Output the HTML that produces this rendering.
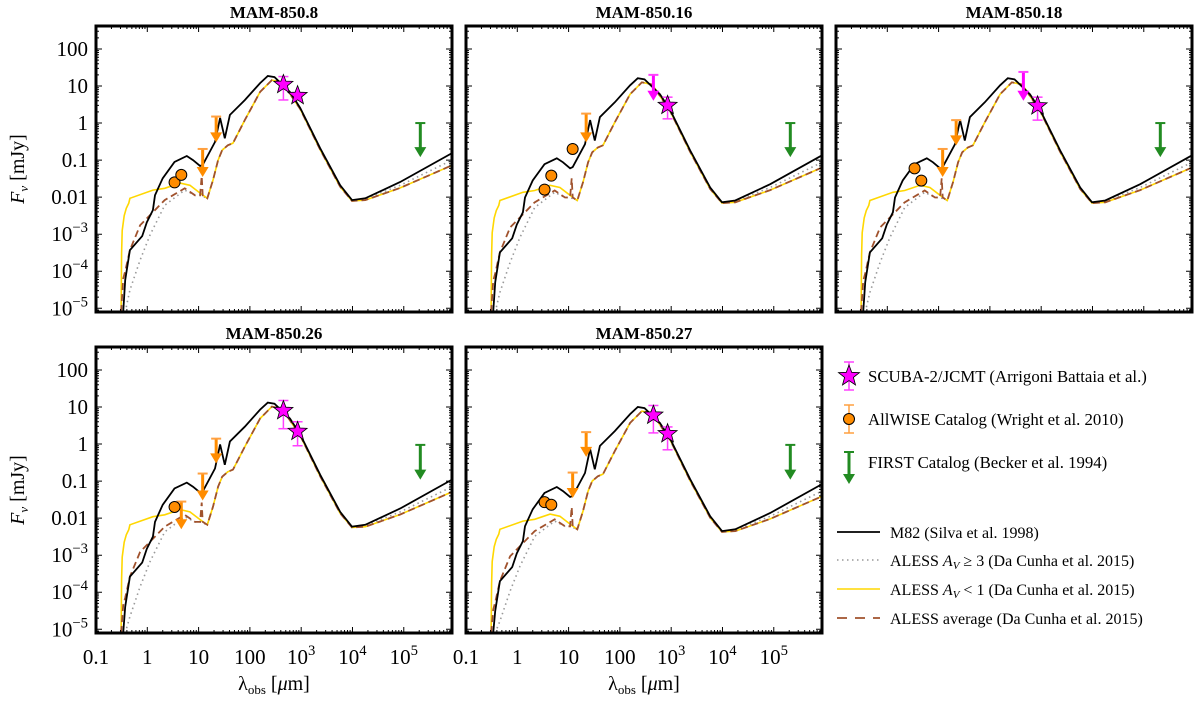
<!DOCTYPE html>
<html><head><meta charset="utf-8"><style>
body{margin:0;background:#fff;}
svg{display:block;font-family:"Liberation Serif",serif;}
</style></head><body>
<svg id="fig" width="1200" height="704" viewBox="0 0 1200 704"></svg>
<script>
// ---- template SED data (log10 lambda [um], log10 F [mJy]) for panel 1 normalisation ----
const m82LogLam=[-0.47,-0.43,-0.34,-0.10,-0.01,0.11,0.15,0.30,0.53,0.77,0.89,1.03,1.08,1.32,1.42,1.51,1.61,1.90,2.20,2.35,2.48,2.78,2.98,3.37,3.76,3.99,4.25,4.93,5.94];
const m82LogF=[-5.1,-4.24,-3.43,-3.05,-2.68,-2.35,-1.95,-1.49,-1.05,-0.89,-1.0,-1.16,-1.13,-0.51,0.14,-0.41,0.22,0.62,1.08,1.27,1.24,0.84,0.41,-0.68,-1.68,-2.08,-2.03,-1.59,-0.81];
const lowAvLogLam=[-0.51,-0.50,-0.49,-0.45,-0.41,-0.36,-0.34,0.11,0.34,0.64,0.83,1.03,1.17,1.28,1.38,1.46,1.57,1.67,1.90,2.20,2.43,2.63,2.98,3.37,3.76,3.99,4.25,4.93,5.94];
const lowAvLogF=[-5.1,-3.5,-2.9,-2.5,-2.3,-2.16,-2.03,-1.81,-1.76,-1.62,-1.68,-1.89,-2.03,-1.54,-1.0,-0.73,-0.6,-0.54,0.08,0.84,1.16,1.1,0.38,-0.72,-1.72,-2.1,-2.08,-1.75,-1.14];
const avgLogLam=[-0.51,-0.47,-0.43,-0.34,-0.14,0.05,0.34,0.73,0.93,1.03,1.06,1.08,1.17,1.28,1.38,1.46,1.57,1.67,1.90,2.20,2.43,2.63,2.98,3.37,3.76,3.99,4.25,4.93,5.94];
const avgLogF=[-5.1,-4.2,-4.0,-3.43,-2.76,-2.49,-2.08,-1.76,-1.95,-1.95,-1.43,-1.95,-2.03,-1.54,-1.0,-0.73,-0.6,-0.54,0.08,0.84,1.16,1.1,0.38,-0.72,-1.72,-2.1,-2.08,-1.75,-1.14];
const highAvLogLam=[-0.43,-0.34,-0.14,0.05,0.34,0.73,0.93,1.03,1.17,1.28,1.38,1.46,1.57,1.67,1.90,2.20,2.43,2.63,2.98,3.37,3.76,3.99,4.25,4.93,5.94];
const highAvLogF=[-5.1,-4.51,-3.7,-3.03,-2.22,-1.81,-1.95,-1.95,-2.03,-1.54,-1.0,-0.73,-0.6,-0.54,0.08,0.84,1.16,1.1,0.38,-0.72,-1.72,-2.1,-2.05,-1.68,-1.0];
// ---- panels ----
const panelNames=["MAM-850.8","MAM-850.16","MAM-850.18","MAM-850.26","MAM-850.27"];
const panelOffset=[0,-0.06,-0.06,-0.15,-0.27];
// detections: circles (AllWISE)
const circLam=[[3.4,4.6],[3.4,4.6,12],[3.4,4.6],[3.4],[3.4,4.6]];
const circF=[[0.025,0.04],[0.016,0.038,0.2],[0.06,0.028],[0.02],[0.027,0.023]];
// upper limits (AllWISE): cap value, arrow tip value
const ulLam=[[12,22],[22],[12,22],[4.6,12,22],[12,22]];
const ulCap=[[0.2,1.5],[1.8],[0.2,1.2],[0.028,0.16,1.4],[0.17,2.1]];
const ulTip=[[0.035,0.3],[0.3],[0.035,0.25],[0.005,0.03,0.3],[0.035,0.45]];
// SCUBA-2 stars
const starLam=[[450,850],[850],[850],[450,850],[450,850]];
const starF=[[11,5.5],[3.0],[2.9],[8,2.2],[6,1.9]];
const starLo=[[4.2,5.5],[1.3],[1.2],[2.6,0.9],[2,0.7]];
const starHi=[[18,5.5],[5],[5],[15,4],[11,2.9]];
// SCUBA-2 upper limits
const sUlLam=[[],[450],[450],[],[]];
const sUlCap=[[],[20],[24],[],[]];
const sUlTip=[[],[4],[4],[],[]];
// FIRST upper limits
const firstLam=2.1e5;
const firstCap=[1,1,1,0.95,0.95];
const firstTip=[0.12,0.12,0.12,0.11,0.11];
const yTickLabels=["100","10","1","0.1","0.01","10|−3","10|−4","10|−5"];
const yTickExp=[2,1,0,-1,-2,-3,-4,-5];
const xTickLabels=["0.1","1","10","100","10|3","10|4","10|5"];
const xTickExp=[-1,0,1,2,3,4,5];

const NS="http://www.w3.org/2000/svg";
const svg=document.getElementById('fig');
function el(t,a,p){const e=document.createElementNS(NS,t);for(const k in a)e.setAttribute(k,a[k]);(p||svg).appendChild(e);return e;}
const PW=356,PH=286;
const origins=[[96,26],[466,26],[836,26],[96,347],[466,347]];
const xMin=-1,xMax=5.94,yMin=-5.1,yMax=2.62;

function label(g,x,y,txt,anchor,size){
  const t=el('text',{x:x,y:y,'text-anchor':anchor,'font-size':size},g);
  const parts=txt.split('|');
  t.appendChild(document.createTextNode(parts[0]));
  if(parts[1]){const s=el('tspan',{dy:-9,'font-size':size*0.7},t);s.textContent=parts[1];}
  return t;
}
function starPath(cx,cy,r){let d='';for(let i=0;i<10;i++){const a=-Math.PI/2+i*Math.PI/5;const rr=i%2?r*0.42:r;d+=(i?'L':'M')+(cx+rr*Math.cos(a)).toFixed(1)+','+(cy+rr*Math.sin(a)).toFixed(1);}return d+'Z';}

origins.forEach((o,pi)=>{
  const [ox,oy]=o;
  const X=l=>ox+(l-xMin)/(xMax-xMin)*PW;
  const Y=f=>oy+(yMax-f)/(yMax-yMin)*PH;
  const g=el('g',{});
  
  
  const t=el('text',{x:ox+PW/2,y:oy-8,'text-anchor':'middle','font-size':17,'font-weight':'bold'},g);
  t.textContent=panelNames[pi];
  
  
  const cid='clip'+pi;
  const cp=el('clipPath',{id:cid},g);el('rect',{x:ox,y:oy,width:PW,height:PH},cp);
  const pg=el('g',{'clip-path':'url(#'+cid+')'},g);
  const off=panelOffset[pi];
  function curve(lx,ly,st,name){
    const d=lx.map((l,i)=>(i?'L':'M')+X(l).toFixed(1)+','+Y(ly[i]+(ly[i]>-5?off:0)).toFixed(1)).join('');
    const p=el('path',Object.assign({d:d,fill:'none'},st),pg);
    
    
  }
  curve(highAvLogLam,highAvLogF,{stroke:'#999','stroke-width':1.6,'stroke-dasharray':'1.5,3.5'},'aless-high-av-curve');
  curve(lowAvLogLam,lowAvLogF,{stroke:'#ffd700','stroke-width':1.6},'aless-low-av-curve');
  curve(avgLogLam,avgLogF,{stroke:'#a0522d','stroke-width':1.8,'stroke-dasharray':'7,4'},'aless-average-curve');
  curve(m82LogLam,m82LogF,{stroke:'#000','stroke-width':1.8},'m82-curve');
  function ul(l,cap,tip,col,capCol,name){
    const x=X(Math.log10(l)),y1=Y(Math.log10(cap)),y2=Y(Math.log10(tip));
    const gg=el('g',{},pg);
    
    
    el('line',{x1:x,y1:y1,x2:x,y2:y2-8,stroke:col,'stroke-width':3},gg);
    el('line',{x1:x-5,y1:y1,x2:x+5,y2:y1,stroke:capCol,'stroke-width':2},gg);
    el('path',{d:`M${x-6},${y2-10}L${x+6},${y2-10}L${x},${y2}Z`,fill:col},gg);
  }
  ul(firstLam,firstCap[pi],firstTip[pi],'#228b22','#228b22','first-upper-limit');
  ulLam[pi].forEach((l,i)=>ul(l,ulCap[pi][i],ulTip[pi][i],'#ff8c00','#ffa040','allwise-upper-limit'));
  sUlLam[pi].forEach((l,i)=>ul(l,sUlCap[pi][i],sUlTip[pi][i],'#ff00ff','#ff40ff','scuba-upper-limit'));
  circLam[pi].forEach((l,i)=>{
    const c=el('circle',{cx:X(Math.log10(l)),cy:Y(Math.log10(circF[pi][i])),r:5.5,fill:'#ff8c00',stroke:'#000','stroke-width':1},pg);
    
    
  });
  starLam[pi].forEach((l,i)=>{
    const x=X(Math.log10(l)),ylo=Y(Math.log10(starLo[pi][i])),yhi=Y(Math.log10(starHi[pi][i]));
    el('line',{x1:x,y1:ylo,x2:x,y2:yhi,stroke:'#ff40ff','stroke-width':1.5},pg);
    el('line',{x1:x-5,y1:ylo,x2:x+5,y2:ylo,stroke:'#ff40ff','stroke-width':1.5},pg);
    el('line',{x1:x-5,y1:yhi,x2:x+5,y2:yhi,stroke:'#ff40ff','stroke-width':1.5},pg);
    const s=el('path',{d:starPath(x,Y(Math.log10(starF[pi][i])),10),fill:'#ff00ff',stroke:'#000','stroke-width':0.8},pg);
    
    
  });
  // ticks
  let tk='';
  for(let e=-1;e<=5;e++){for(let m=1;m<10;m++){const l=e+Math.log10(m);if(l>xMax)break;const x=X(l);const len=m==1?6:3;tk+=`M${x},${oy+PH}v${-len}M${x},${oy}v${len}`;}}
  for(let e=-6;e<=2;e++){for(let m=1;m<10;m++){const l=e+Math.log10(m);if(l<yMin||l>yMax)continue;const y=Y(l);const len=m==1?6:3;tk+=`M${ox},${y}h${len}M${ox+PW},${y}h${-len}`;}}
  el('path',{d:tk,stroke:'#000','stroke-width':1,fill:'none'},g);
  const fr=el('rect',{x:ox,y:oy,width:PW,height:PH,fill:'none',stroke:'#000','stroke-width':3},g);
  
  
  if(pi==0||pi==3){
    yTickExp.forEach((e,i)=>{const tl=label(g,ox-8,Y(e)+7,yTickLabels[i],'end',21);
      
      });
    const yl=el('text',{x:0,y:0,'font-size':20,'text-anchor':'middle',transform:`translate(${ox-72},${oy+PH/2}) rotate(-90)`},g);
    yl.innerHTML='<tspan font-style="italic">F</tspan><tspan font-style="italic" font-size="13" dy="4">ν</tspan><tspan dy="-4"> [mJy]</tspan>';
    
    
  }
  if(pi>=3){
    xTickExp.forEach((e,i)=>{const tl=label(g,X(e),oy+PH+31,xTickLabels[i],'middle',21);
      
      });
    const xl=el('text',{x:ox+PW/2,y:oy+PH+57,'font-size':20,'text-anchor':'middle'},g);
    xl.innerHTML='λ<tspan font-size="13" dy="4">obs</tspan><tspan dy="-4"> [</tspan><tspan font-style="italic">μ</tspan>m]';
    
    
  }
});

// ---- legend ----
const lg=el('g',{});


function ltext(x,y,html,fs){const t=el('text',{x:x,y:y,'font-size':fs},lg);t.innerHTML=html;return t;}
el('line',{x1:849,y1:362,x2:849,y2:390,stroke:'#ff40ff','stroke-width':1.5},lg);
el('line',{x1:844,y1:362,x2:854,y2:362,stroke:'#ff40ff','stroke-width':1.5},lg);
el('line',{x1:844,y1:390,x2:854,y2:390,stroke:'#ff40ff','stroke-width':1.5},lg);
el('path',{d:starPath(849,376,11),fill:'#ff00ff',stroke:'#000','stroke-width':0.8},lg);
ltext(868,382,'SCUBA-2/JCMT (Arrigoni Battaia et al.)',16.8);
el('line',{x1:849,y1:405,x2:849,y2:433,stroke:'#ffa040','stroke-width':1.5},lg);
el('line',{x1:844,y1:405,x2:854,y2:405,stroke:'#ffa040','stroke-width':1.5},lg);
el('line',{x1:844,y1:433,x2:854,y2:433,stroke:'#ffa040','stroke-width':1.5},lg);
el('circle',{cx:849,cy:419,r:5.5,fill:'#ff8c00',stroke:'#000','stroke-width':1},lg);
ltext(868,425,'AllWISE Catalog (Wright et al. 2010)',16.8);
el('line',{x1:849,y1:452,x2:849,y2:478,stroke:'#228b22','stroke-width':3},lg);
el('line',{x1:844,y1:452,x2:854,y2:452,stroke:'#228b22','stroke-width':2},lg);
el('path',{d:'M843,474L855,474L849,484Z',fill:'#228b22'},lg);
ltext(868,468,'FIRST Catalog (Becker et al. 1994)',16.8);
el('line',{x1:837,y1:532,x2:880,y2:532,stroke:'#000','stroke-width':1.8},lg);
ltext(890,538,'M82 (Silva et al. 1998)',16);
el('line',{x1:837,y1:560,x2:880,y2:560,stroke:'#999','stroke-width':1.6,'stroke-dasharray':'1.5,3.5'},lg);
ltext(890,566,'ALESS <tspan font-style="italic">A</tspan><tspan font-style="italic" font-size="11" dy="3">V</tspan><tspan dy="-3"> ≥ 3 (Da Cunha et al. 2015)</tspan>',16);
el('line',{x1:837,y1:589,x2:880,y2:589,stroke:'#ffd700','stroke-width':1.6},lg);
ltext(890,595,'ALESS <tspan font-style="italic">A</tspan><tspan font-style="italic" font-size="11" dy="3">V</tspan><tspan dy="-3"> &lt; 1 (Da Cunha et al. 2015)</tspan>',16);
el('line',{x1:837,y1:618,x2:880,y2:618,stroke:'#a0522d','stroke-width':1.8,'stroke-dasharray':'10,8'},lg);
ltext(890,624,'ALESS average (Da Cunha et al. 2015)',16);
</script>
</body></html>
